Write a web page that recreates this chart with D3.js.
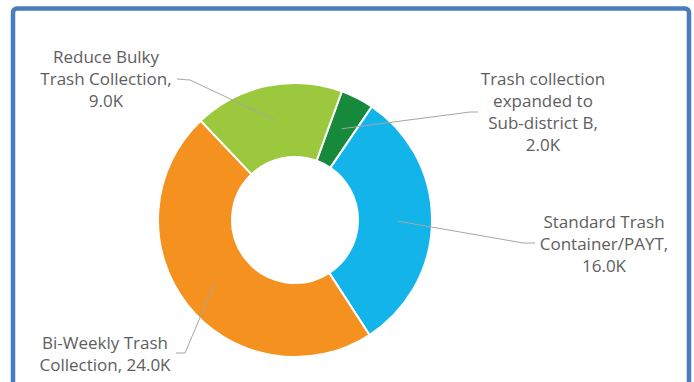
<!DOCTYPE html>
<html>
<head>
<meta charset="utf-8">
<script src="https://cdn.jsdelivr.net/npm/d3@7"></script>
<style>
  html, body { margin: 0; padding: 0; background: #fff; }
  svg { display: block; }
  .label { font-family: "Open Sans", Lato, sans-serif; font-size: 17px; fill: #5e5e5e; }
</style>
</head>
<body>
<svg id="chart"></svg>
<script>
// slices, clockwise from the dark green one
const categories = [
    "Trash collection expanded to Sub-district B",
    "Standard Trash Container/PAYT",
    "Bi-Weekly Trash Collection",
    "Reduce Bulky Trash Collection"
];
const values = [2000, 16000, 24000, 9000];
const colors = ["#17893b", "#12b4ea", "#f5921f", "#9bc83c"];

// label lines as they wrap in the picture
const labelLines = [
    ["Trash collection", "expanded to", "Sub-district B,", "2.0K"],
    ["Standard Trash", "Container/PAYT,", "16.0K"],
    ["Bi-Weekly Trash", "Collection, 24.0K"],
    ["Reduce Bulky", "Trash Collection,", "9.0K"]
];

const width = 694, height = 382;
const cx = 295, cy = 220;
const outerR = 137, innerR = 63;
const startDeg = 20;

// where each label sits (centre x, first baseline) and its leader line elbow
const labelLayout = [
    { x: 543, y: 85, elbow: [470, 112], end: [478, 112] },
    { x: 604, y: 228, elbow: [523, 243], end: [535, 243] },
    { x: 105, y: 349, elbow: [185, 353], end: [176, 353] },
    { x: 106, y: 63, elbow: [190, 80], end: [177, 79] }
];

const svg = d3.select("#chart")
    .attr("width", width)
    .attr("height", height);

// blue frame round the whole picture
svg.append("rect")
    .attr("x", 13)
    .attr("y", 8.5)
    .attr("width", 676)
    .attr("height", 420)
    .attr("rx", 4)
    .attr("fill", "none")
    .attr("stroke", "#4a7dbf")
    .attr("stroke-width", 4.5);

const pie = d3.pie()
    .sort(null)
    .value(d => d)
    .startAngle(startDeg * Math.PI / 180)
    .endAngle((startDeg + 360) * Math.PI / 180);

const arc = d3.arc()
    .innerRadius(innerR)
    .outerRadius(outerR);

const pointArc = d3.arc()
    .innerRadius(68)
    .outerRadius(137);

const arcs = pie(values);

const g = svg.append("g")
    .attr("transform", `translate(${cx},${cy})`);

g.selectAll("path")
    .data(arcs)
    .enter().append("path")
    .attr("d", arc)
    .attr("fill", (d, i) => colors[i])
    .attr("stroke", "#fff")
    .attr("stroke-width", 2);

// leader lines
const line = d3.line();
svg.append("g")
    .selectAll("path")
    .data(arcs)
    .enter().append("path")
    .attr("d", (d, i) => {
        const c = pointArc.centroid(d);
        const lay = labelLayout[i];
        return line([[cx + c[0], cy + c[1]], lay.elbow, lay.end]);
    })
    .attr("fill", "none")
    .attr("stroke", "#a6a6a6")
    .attr("stroke-width", 1);

// labels
const labels = svg.append("g")
    .selectAll("text")
    .data(arcs)
    .enter().append("text")
    .attr("class", "label")
    .attr("text-anchor", "middle")
    .attr("x", (d, i) => labelLayout[i].x)
    .attr("y", (d, i) => labelLayout[i].y);

labels.each(function(d, i) {
    const t = d3.select(this);
    labelLines[i].forEach((txt, k) => {
        t.append("tspan")
            .attr("x", labelLayout[i].x)
            .attr("dy", k === 0 ? 0 : 22)
            .text(txt);
    });
});
</script>
</body>
</html>
